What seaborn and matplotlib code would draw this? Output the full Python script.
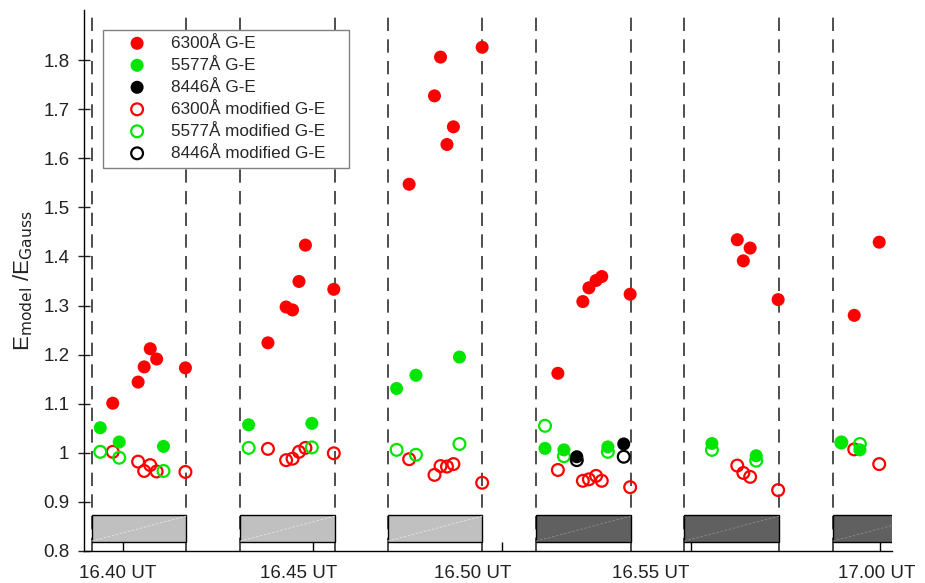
import matplotlib
matplotlib.use("Agg")
import matplotlib.pyplot as plt
import pandas as pd
import seaborn as sns
from matplotlib.patches import Rectangle

# time axis: minutes after 16:00 UT
win_start = [39.16, 43.08, 46.98, 50.90, 54.82, 58.74]
win_len = 2.5
win_shade = ["#c0c0c0", "#c0c0c0", "#c0c0c0", "#606060", "#606060", "#606060"]
win_diag = ["#e6e6e6", "#e6e6e6", "#e6e6e6", "#8c8c8c", "#8c8c8c", "#8c8c8c"]

# 6300A
t_6300 = [39.72, 40.39, 40.55, 40.71, 40.88, 41.64,
          43.82, 44.30, 44.47, 44.64, 44.81, 45.56,
          47.55, 48.22, 48.38, 48.55, 48.72, 49.48,
          51.48, 52.14, 52.30, 52.49, 52.64, 53.39,
          56.22, 56.38, 56.56, 57.30,
          59.31, 59.97]
ge_6300 = [1.101, 1.144, 1.175, 1.212, 1.191, 1.173,
           1.224, 1.297, 1.291, 1.349, 1.423, 1.333,
           1.547, 1.727, 1.806, 1.628, 1.664, 1.826,
           1.162, 1.308, 1.336, 1.351, 1.359, 1.323,
           1.434, 1.391, 1.417, 1.312,
           1.280, 1.429]
mod_6300 = [1.002, 0.982, 0.963, 0.975, 0.962, 0.961,
            1.008, 0.985, 0.988, 1.002, 1.010, 0.999,
            0.987, 0.955, 0.973, 0.972, 0.977, 0.939,
            0.965, 0.943, 0.946, 0.953, 0.943, 0.930,
            0.974, 0.959, 0.951, 0.924,
            1.007, 0.977]

# 5577A
t_5577 = [39.39, 39.89, 41.06, 43.31, 44.98, 47.22, 47.73, 48.88,
          51.14, 51.64, 52.80, 55.55, 56.72, 58.97, 59.46]
ge_5577 = [1.051, 1.022, 1.013, 1.057, 1.060, 1.131, 1.158, 1.195,
           1.009, 1.006, 1.012, 1.019, 0.994, 1.021, 1.006]
mod_5577 = [1.002, 0.990, 0.963, 1.010, 1.011, 1.006, 0.996, 1.018,
            1.055, 0.993, 1.002, 1.006, 0.984, 1.021, 1.018]

# 8446A
t_8446 = [51.98, 53.22]
ge_8446 = [0.992, 1.018]
mod_8446 = [0.985, 0.992]

tick_pos = [40, 45, 50, 55, 60]
label_pos = [39.86, 44.62, 49.24, 53.94, 59.91]
tick_labels = ["16.40 UT", "16.45 UT", "16.50 UT", "16.55 UT", "17.00 UT"]
y_ticks = [0.8, 0.9, 1.0, 1.1, 1.2, 1.3, 1.4, 1.5, 1.6, 1.7, 1.8]
y_labels = ["0.8", "0.9", "1", "1.1", "1.2", "1.3", "1.4", "1.5", "1.6", "1.7", "1.8"]

sns.set_style("white")
plt.rcParams["font.family"] = ["Liberation Sans", "DejaVu Sans"]

fig = plt.figure(figsize=(9.25, 5.83), dpi=100)
ax = fig.add_axes([0.0908, 0.0549, 0.8732, 0.9280])

# windows: dashed borders and shaded bars
for s, c, d in zip(win_start, win_shade, win_diag):
    for xv in (s, s + win_len):
        ax.axvline(xv, color="#303030", lw=1.2, dashes=(8, 5), zorder=1)
    ax.add_patch(Rectangle((s, 0.818), win_len, 0.055, facecolor=c,
                           edgecolor="black", lw=1.0, zorder=4, clip_on=True))
    ax.plot([s, s + win_len], [0.820, 0.871], color=d, lw=0.6,
            dashes=(3, 2), zorder=5)

series = [
    ("6300Å G-E", t_6300, ge_6300, "#ff0000", True),
    ("5577Å G-E", t_5577, ge_5577, "#00e600", True),
    ("8446Å G-E", t_8446, ge_8446, "#000000", True),
    ("6300Å modified G-E", t_6300, mod_6300, "#ff0000", False),
    ("5577Å modified G-E", t_5577, mod_5577, "#00e600", False),
    ("8446Å modified G-E", t_8446, mod_8446, "#000000", False),
]
for name, t, v, col, filled in series:
    df = pd.DataFrame({"t": t, "v": v})
    if filled:
        sns.scatterplot(data=df, x="t", y="v", ax=ax, s=88, color=col,
                        edgecolor="none", label=name, zorder=3)
    else:
        sns.scatterplot(data=df, x="t", y="v", ax=ax, s=72, facecolors="none",
                        edgecolors=col, linewidths=1.6, label=name, zorder=2)

ax.set_xlim(38.96, 60.30)
ax.set_ylim(0.8, 1.902)
ax.set_xticks(tick_pos, minor=True)
ax.set_xticks(label_pos)
ax.set_xticklabels(tick_labels)
ax.set_yticks(y_ticks)
ax.set_yticklabels(y_labels)
ax.tick_params(axis="x", which="major", bottom=True, length=0, pad=10, labelsize=13.5,
               colors="#222222")
ax.tick_params(axis="x", which="minor", bottom=True, direction="in", length=6.5,
               width=1, color="black")
ax.tick_params(axis="y", left=True, direction="inout", length=9, width=1, pad=6,
               labelsize=13.5, colors="#222222")
ax.set_xlabel("")
ax.set_ylabel(r"E$_{\rm model}$ /E$_{\rm Gauss}$", fontsize=16, color="#222222", labelpad=6)
sns.despine(ax=ax, top=True, right=True)
for sp in ("left", "bottom"):
    ax.spines[sp].set_color("black")
    ax.spines[sp].set_linewidth(1)

# legend without its own frame, framed by a plain box
leg = ax.legend(loc="upper left", bbox_to_anchor=(0.0446, 0.9523), fontsize=12.3,
                frameon=False, borderpad=0, labelspacing=0.41, handlelength=2.0,
                handletextpad=0.98, borderaxespad=0)
leg.set_zorder(7)
ax.add_patch(Rectangle((0.0235, 0.708), 0.3046, 0.255, transform=ax.transAxes,
                       facecolor="white", edgecolor="#808080", lw=1, zorder=6))

fig.savefig("out.png", dpi=100)
